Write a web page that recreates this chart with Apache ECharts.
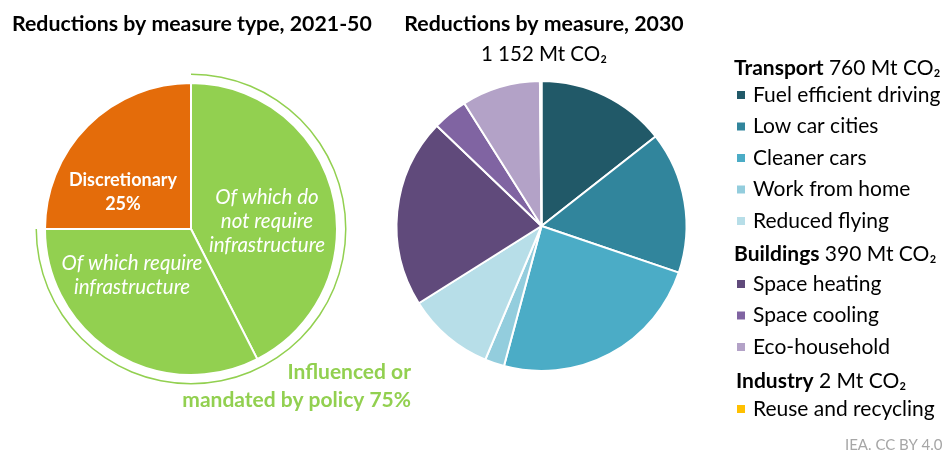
<!DOCTYPE html>
<html>
<head>
<meta charset="utf-8">
<script src="https://cdn.jsdelivr.net/npm/echarts@6/dist/echarts.min.js"></script>
<style>
  html, body { margin: 0; padding: 0; background: #fff; }
  #main { width: 946px; height: 452px; }
</style>
</head>
<body>
<div id="main"></div>
<script>
// left pie: share of reductions by measure type, 2021-50 (%)
var typeNames = ['Of which do not require infrastructure', 'Of which require infrastructure', 'Discretionary'];
var typeValues = [42.5, 32.5, 25];
var typeColors = ['#92d050', '#92d050', '#e46c0a'];

// right pie: reductions by measure in 2030 (Mt CO2)
var measureNames = ['Fuel efficient driving', 'Low car cities', 'Cleaner cars', 'Work from home', 'Reduced flying',
  'Space heating', 'Space cooling', 'Eco-household', 'Reuse and recycling'];
var measureValues = [166, 182, 276, 25, 112, 243, 45, 101, 2];
var measureColors = ['#215968', '#31859c', '#4bacc6', '#93cddd', '#b7dee8', '#604a7b', '#8064a2', '#b3a2c7', '#ffc000'];

var transportItems = measureNames.slice(0, 5);
var buildingItems = measureNames.slice(5, 8);
var industryItems = measureNames.slice(8);

var FONT = 'Lato, "DejaVu Sans", sans-serif';

var chart = echarts.init(document.getElementById('main'));

function legendBlock(items, top) {
  return {
    orient: 'vertical',
    left: 735,
    top: top,
    icon: 'rect',
    itemWidth: 10,
    itemHeight: 10,
    itemGap: 9.5,
    padding: 0,
    selectedMode: false,
    data: items,
    textStyle: { fontFamily: FONT, fontSize: 21, color: '#000', lineHeight: 22, padding: [0, 0, 0, 2] }
  };
}

function txt(x, y, text, style) {
  return {
    type: 'text', x: x, y: y, silent: true, z: 100,
    style: Object.assign({ text: text, fontFamily: FONT, fill: '#000', verticalAlign: 'middle' }, style)
  };
}

var boldRich = { b: { fontWeight: 'bold', fontSize: 21, fontFamily: FONT } };

var option = {
  animation: false,
  color: measureColors,
  legend: [legendBlock(transportItems, 84), legendBlock(buildingItems, 273), legendBlock(industryItems, 398)],
  graphic: [
    txt(12, 24, 'Reductions by measure type, 2021-50', { fontSize: 21.3, fontWeight: 'bold' }),
    txt(544, 24, 'Reductions by measure, 2030', { fontSize: 21.3, fontWeight: 'bold', align: 'center' }),
    txt(544, 54, '1 152 Mt CO\u2082', { fontSize: 20.5, align: 'center' }),
    txt(734, 68, '{b|Transport} 760 Mt CO\u2082', { fontSize: 21, rich: boldRich }),
    txt(734, 254, '{b|Buildings} 390 Mt CO\u2082', { fontSize: 21, rich: boldRich }),
    txt(736, 381, '{b|Industry} 2 Mt CO\u2082', { fontSize: 21, rich: boldRich }),
    txt(845, 445, 'IEA. CC BY 4.0', { fontSize: 15, fill: '#a6a6a6' }),
    txt(123, 192, 'Discretionary\n25%', { fontSize: 18, fontWeight: 'bold', fill: '#fff', align: 'center', lineHeight: 24 }),
    txt(267, 221, 'Of which do\nnot require\ninfrastructure', { fontSize: 20.5, fontStyle: 'italic', fill: '#fff', align: 'center', lineHeight: 24 }),
    txt(132, 275, 'Of which require\ninfrastructure', { fontSize: 20.5, fontStyle: 'italic', fill: '#fff', align: 'center', lineHeight: 24 }),
    txt(411, 386, 'Influenced or\nmandated by policy 75%', { fontSize: 21, fontWeight: 'bold', fill: '#92d050', align: 'right', lineHeight: 28 })
  ],
  series: [
    {
      type: 'pie',
      center: [191, 229],
      radius: 146,
      startAngle: 90,
      silent: true,
      label: { show: false },
      labelLine: { show: false },
      itemStyle: { borderColor: '#fff', borderWidth: 2 },
      data: typeNames.map(function (n, i) {
        return { name: n, value: typeValues[i], itemStyle: { color: typeColors[i] } };
      })
    },
    {
      // thin arc marking the policy-driven share
      type: 'pie',
      center: [191, 229],
      radius: [154, 155.5],
      startAngle: 90,
      silent: true,
      label: { show: false },
      labelLine: { show: false },
      data: [
        { name: 'policy', value: typeValues[0] + typeValues[1], itemStyle: { color: '#92d050' } },
        { name: 'rest', value: typeValues[2], itemStyle: { color: 'rgba(0,0,0,0)' } }
      ]
    },
    {
      type: 'pie',
      center: [541.5, 226],
      radius: 145,
      startAngle: 90,
      silent: true,
      label: { show: false },
      labelLine: { show: false },
      itemStyle: { borderColor: '#fff', borderWidth: 2 },
      data: measureNames.map(function (n, i) {
        return { name: n, value: measureValues[i], itemStyle: { color: measureColors[i] } };
      })
    }
  ]
};

chart.setOption(option);
</script>
</body>
</html>
